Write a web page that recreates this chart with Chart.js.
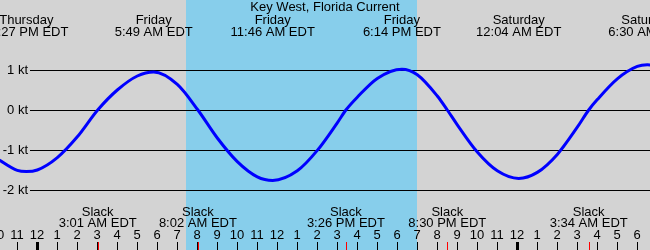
<!DOCTYPE html>
<html>
<head>
<meta charset="utf-8">
<script src="https://cdn.jsdelivr.net/npm/chart.js@4/dist/chart.umd.min.js"></script>
<style>
  body { margin: 0; background: #d3d3d3; }
  #tideChart { display: block; }
</style>
</head>
<body>
<canvas id="tideChart" width="650" height="250"></canvas>
<script>
// hours counted from Friday 00:00
const curveHours = [-2, -1, -0.55, 0, 1, 2, 3.02, 4, 5, 5.82, 7, 8.03, 9, 10, 11, 11.77, 13, 14, 15, 15.43,
  16, 17, 18.23, 19, 20, 20.5, 21, 22, 23, 24.07, 25, 26, 27, 27.57, 28, 29, 30, 30.5, 31];
const curveKnots = [-1.22, -1.51, -1.54, -1.50, -1.19, -0.67, 0, 0.50, 0.85, 0.95, 0.64, 0, -0.70, -1.29, -1.67, -1.76,
  -1.52, -1.01, -0.32, 0, 0.32, 0.79, 1.02, 0.88, 0.35, 0, -0.37, -1.05, -1.52, -1.71, -1.56, -1.11, -0.43, 0,
  0.26, 0.78, 1.09, 1.13, 1.09];

const peakHours = [-0.55, 5.82, 11.77, 18.23, 24.07, 30.5];
const peakDays = ['Thursday', 'Friday', 'Friday', 'Friday', 'Saturday', 'Saturday'];
const peakTimes = ['11:27 PM EDT', '5:49 AM EDT', '11:46 AM EDT', '6:14 PM EDT', '12:04 AM EDT', '6:30 AM EDT'];

const slackHours = [3.02, 8.03, 15.43, 20.5, 27.57];
const slackTimes = ['3:01 AM EDT', '8:02 AM EDT', '3:26 PM EDT', '8:30 PM EDT', '3:34 AM EDT'];

const daylight = [7.43, 19.0];
const ktTicks = [1, 0, -1, -2];
const hourTicks = [];
for (let h = -2; h <= 30; h++) hourTicks.push(h);

const FONT = "13px 'Liberation Sans', Arial, sans-serif";

function hourLabel(h) {
  const v = ((h % 12) + 12) % 12;
  return v === 0 ? '12' : String(v);
}

const decorations = {
  id: 'decorations',
  beforeDatasetsDraw(chart) {
    const { ctx, scales: { x, y } } = chart;
    const W = chart.width, H = chart.height;
    ctx.save();
    ctx.fillStyle = '#d3d3d3';
    ctx.fillRect(0, 0, W, H);
    const x0 = Math.round(x.getPixelForValue(daylight[0]));
    const x1 = Math.round(x.getPixelForValue(daylight[1]));
    ctx.fillStyle = '#87ceeb';
    ctx.fillRect(x0, 0, x1 - x0, H);

    ctx.strokeStyle = '#000';
    ctx.lineWidth = 1;
    ctx.font = FONT;
    ctx.fillStyle = '#000';
    ctx.textAlign = 'right';
    ctx.textBaseline = 'middle';
    ktTicks.forEach(v => {
      const py = Math.round(y.getPixelForValue(v)) + 0.5;
      ctx.beginPath();
      ctx.moveTo(30, py);
      ctx.lineTo(W, py);
      ctx.stroke();
      ctx.fillText(v + ' kt', 28, py);
    });
    ctx.restore();
  },
  afterDatasetsDraw(chart) {
    const { ctx, scales: { x } } = chart;
    const H = chart.height;
    ctx.save();
    ctx.font = FONT;
    ctx.fillStyle = '#000';
    ctx.textAlign = 'center';
    ctx.textBaseline = 'alphabetic';

    ctx.fillText('Key West, Florida Current', 325, 11);
    peakHours.forEach((h, i) => {
      const px = x.getPixelForValue(h);
      ctx.fillText(peakDays[i], px, 24);
      ctx.fillText(peakTimes[i], px, 36);
    });
    slackHours.forEach((h, i) => {
      const px = x.getPixelForValue(h);
      ctx.fillText('Slack', px, 216);
      ctx.fillText(slackTimes[i], px, 227);
    });

    hourTicks.forEach(h => {
      const px = Math.round(x.getPixelForValue(h));
      ctx.fillText(hourLabel(h), px, 239);
      const thick = h % 24 === 0;
      ctx.fillStyle = '#000';
      ctx.fillRect(px - (thick ? 1 : 0), 242, thick ? 3 : 1, H - 242);
    });
    ctx.fillStyle = '#ff0000';
    slackHours.forEach(h => {
      const px = Math.round(x.getPixelForValue(h));
      ctx.fillRect(px, 242, 1, H - 242);
    });
    ctx.restore();
  }
};

new Chart(document.getElementById('tideChart'), {
  type: 'line',
  data: {
    datasets: [{
      data: curveHours.map((h, i) => ({ x: h, y: curveKnots[i] })),
      borderColor: '#0000ff',
      borderWidth: 3,
      pointRadius: 0,
      fill: false,
      cubicInterpolationMode: 'monotone'
    }]
  },
  options: {
    responsive: false,
    devicePixelRatio: 1,
    animation: false,
    layout: { padding: 0 },
    plugins: { legend: { display: false }, tooltip: { enabled: false } },
    scales: {
      x: { type: 'linear', min: -1.865, max: 30.635, display: false },
      y: { type: 'linear', min: -3.5, max: 2.75, display: false }
    }
  },
  plugins: [decorations]
});
</script>
</body>
</html>
